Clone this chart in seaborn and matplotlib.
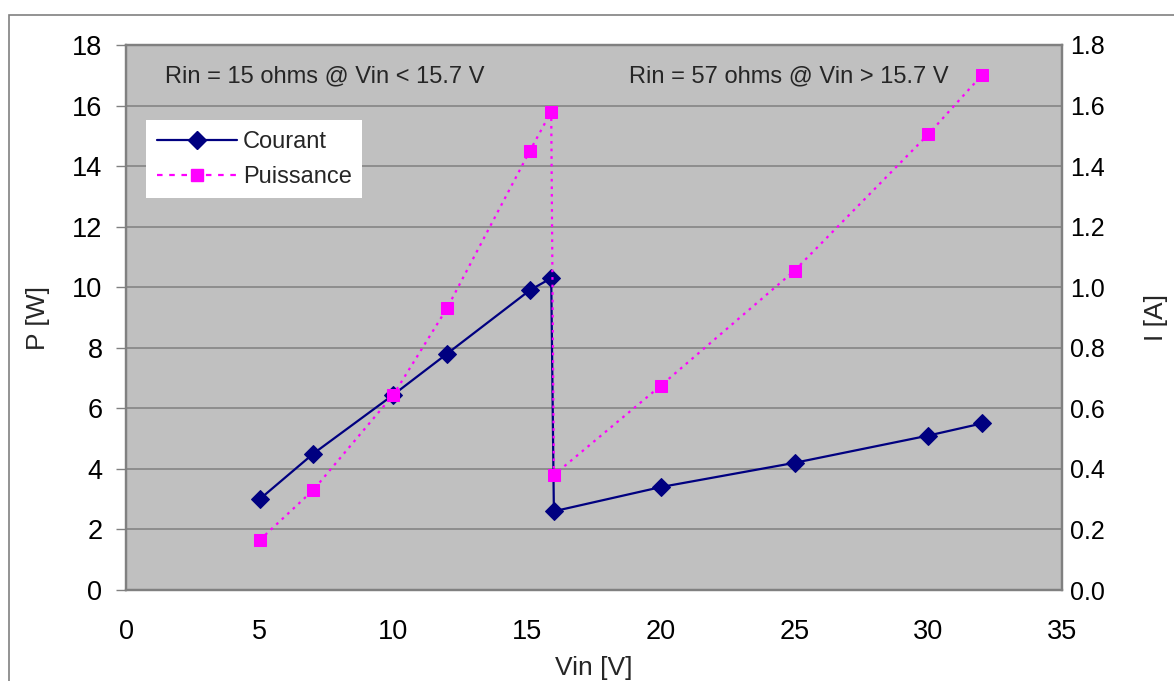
import matplotlib
matplotlib.use("Agg")
import pandas as pd
import seaborn as sns
from matplotlib import pyplot as plt
from matplotlib.lines import Line2D
from matplotlib.patches import Rectangle

# measured points
vin = [5, 7, 10, 12, 15.1, 15.9, 16, 20, 25, 30, 32]
courant = [0.30, 0.45, 0.645, 0.78, 0.99, 1.03, 0.26, 0.34, 0.42, 0.51, 0.55]
puissance = [1.65, 3.3, 6.45, 9.3, 14.5, 15.8, 3.8, 6.75, 10.55, 15.05, 17.0]

p_ticks = [0, 2, 4, 6, 8, 10, 12, 14, 16, 18]
i_ticks = [0.0, 0.2, 0.4, 0.6, 0.8, 1.0, 1.2, 1.4, 1.6, 1.8]
x_ticks = [0, 5, 10, 15, 20, 25, 30, 35]

NAVY = "#000080"
MAGENTA = "#FF00FF"
GRID = "#808080"
DOTS = (0, (1.2, 2.2))

data = pd.DataFrame({"Vin": vin, "Courant": courant, "Puissance": puissance})

sns.set_style("white")
plt.rcParams["font.family"] = ["Liberation Sans", "DejaVu Sans"]

fig = plt.figure(figsize=(11.74, 6.81), dpi=100)
ax = fig.add_axes([126 / 1174, 1 - 590 / 681, (1062 - 126) / 1174, (590 - 45) / 681])
ax2 = ax.twinx()

# left axis drawn on top so the power squares sit over the current line
ax.set_zorder(2)
ax2.set_zorder(1)
ax.patch.set_visible(False)
ax2.patch.set_visible(True)
ax2.patch.set_facecolor("#C0C0C0")

sns.lineplot(data=data, x="Vin", y="Courant", ax=ax2, color=NAVY, marker="D", markersize=9.5,
             markeredgecolor=NAVY, linewidth=1.6, sort=False)
sns.lineplot(data=data, x="Vin", y="Puissance", ax=ax, color=MAGENTA, marker="s", markersize=8.5,
             markeredgecolor=MAGENTA, linewidth=1.6, linestyle=DOTS, sort=False)

ax.set_xlim(0, 35)
ax.set_ylim(0, 18)
ax2.set_ylim(0, 1.8)
ax.set_xticks(x_ticks)
ax.set_yticks(p_ticks)
ax2.set_yticks(i_ticks)
ax2.set_yticklabels([f"{t:.1f}" for t in i_ticks])

ax2.yaxis.grid(True, color=GRID, linewidth=1.1)
ax2.set_axisbelow(True)

for a in (ax, ax2):
    for s in a.spines.values():
        s.set_color(GRID)
        s.set_linewidth(1.6)
    a.tick_params(axis="both", labelsize=18, colors=GRID, labelcolor="black",
                  length=7, width=1, direction="out")
ax.tick_params(axis="y", labelsize=19.5, pad=10, right=False)
ax.tick_params(axis="x", labelsize=19.5, pad=14)
ax2.tick_params(axis="y", pad=6, length=0)

ax.set_xlabel("Vin [V]", fontsize=19, labelpad=8)
ax.set_ylabel("P [W]", fontsize=19, labelpad=16)
ax2.set_ylabel("I [A]", fontsize=19, labelpad=28)

ax.text(1.45, 16.95, "Rin = 15 ohms @ Vin < 15.7 V", fontsize=17, va="center", ha="left")
ax.text(18.8, 16.95, "Rin = 57 ohms @ Vin > 15.7 V", fontsize=17, va="center", ha="left")

handles = [
    Line2D([], [], color=NAVY, marker="D", markersize=9.5, linewidth=1.6),
    Line2D([], [], color=MAGENTA, marker="s", markersize=8.5, linewidth=1.6, linestyle=(0, (2.5, 3))),
]
leg = ax.legend(handles, ["Courant", "Puissance"], loc="upper left", bbox_to_anchor=(0.0214, 0.862),
                fontsize=17, frameon=True, fancybox=False, framealpha=1, facecolor="white",
                handlelength=3.4, handletextpad=0.25, borderpad=0.45, labelspacing=0.55,
                borderaxespad=0)
leg.get_frame().set_linewidth(0)

# outer chart border
fig.patches.append(Rectangle((9 / 1174, -0.05), 1.2, 1 - 15 / 681 + 0.05, transform=fig.transFigure,
                             fill=False, edgecolor=GRID, linewidth=1.2, clip_on=False))

fig.savefig("out.png", dpi=100)
